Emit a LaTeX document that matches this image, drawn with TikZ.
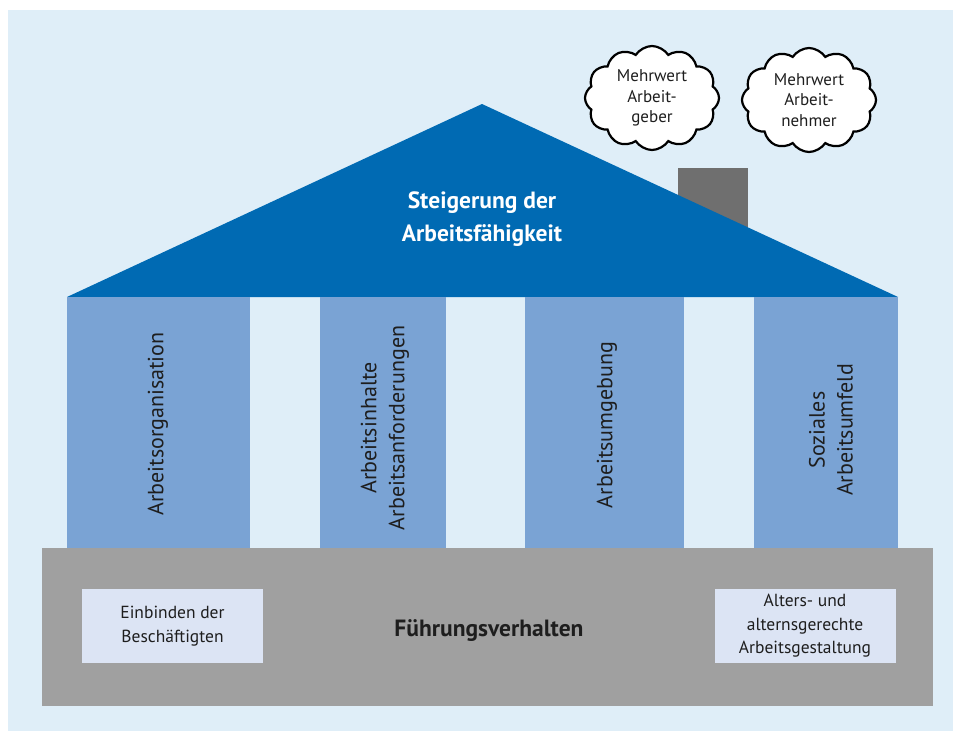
\documentclass[tikz,border=0pt]{standalone}
\usepackage{fontspec}
\setmainfont{PT Sans}
\usetikzlibrary{shapes.symbols}
\definecolor{bgblue}{HTML}{DFEEF8}
\definecolor{roofblue}{HTML}{006AB3}
\definecolor{pillarblue}{HTML}{7AA3D4}
\definecolor{basegray}{HTML}{A0A0A0}
\definecolor{chimgray}{HTML}{6F6F6F}
\definecolor{boxfill}{HTML}{DCE4F4}
\definecolor{txtdark}{HTML}{1E1E1E}
\begin{document}
\begin{tikzpicture}[x=1pt,y=-1pt,
  pillar/.style={fill=pillarblue,draw=none},
  pillartext/.style={rotate=90,align=center,font=\fontsize{22}{28}\selectfont,text=txtdark,inner sep=0pt},
  smallbox/.style={fill=boxfill,draw=none,minimum width=181pt,minimum height=74pt,align=center,
    font=\fontsize{17.5}{23.5}\selectfont,text=txtdark,inner sep=0pt},
  thought/.style={cloud,cloud puffs=12,cloud puff arc=115,aspect=1.3,draw=black,line width=2.2pt,fill=white,
    minimum width=134pt,minimum height=104pt,align=center,font=\fontsize{17}{20.5}\selectfont,text=txtdark,inner sep=0pt}]
\useasboundingbox (0,0) rectangle (953,731);
\fill[white] (0,0) rectangle (953,731);
\fill[bgblue] (8,10) rectangle (953,731);

% chimney behind the roof
\fill[chimgray] (678,168) rectangle (748,240);
% roof
\fill[roofblue] (67,297) -- (482,104) -- (898,297) -- cycle;
\node[text=white,align=center,font=\bfseries\fontsize{23.5}{33}\selectfont] (roof) at (482,219)
  {Steigerung der\\Arbeitsfähigkeit};

% pillars
\fill[pillar] (67,297) rectangle (250,548);
\fill[pillar] (320,297) rectangle (446,548);
\fill[pillar] (525,297) rectangle (684,548);
\fill[pillar] (754,297) rectangle (898,548);
\node[pillartext] (p1) at (158,424) {Arbeitsorganisation};
\node[pillartext] (p2) at (385,428) {Arbeitsinhalte\\Arbeitsanforderungen};
\node[pillartext] (p3) at (607,425) {Arbeitsumgebung};
\node[pillartext] (p4) at (831,430) {Soziales\\Arbeitsumfeld};

% foundation
\fill[basegray] (42,548) rectangle (933,706);
\node[font=\bfseries\fontsize{23.5}{28}\selectfont,text=txtdark] (fv) at (489,631) {Führungsverhalten};
\node[smallbox] (b1) at (172.5,626) {Einbinden der\\Beschäftigten};
\node[smallbox] (b2) at (805,626) {Alters- und\\alternsgerechte\\Arbeitsgestaltung};

% thought clouds
\node[thought] (c1) at (652,98) {Mehrwert\\Arbeit-\\geber};
\node[thought] (c2) at (809,100) {Mehrwert\\Arbeit-\\nehmer};
\end{tikzpicture}
\end{document}
